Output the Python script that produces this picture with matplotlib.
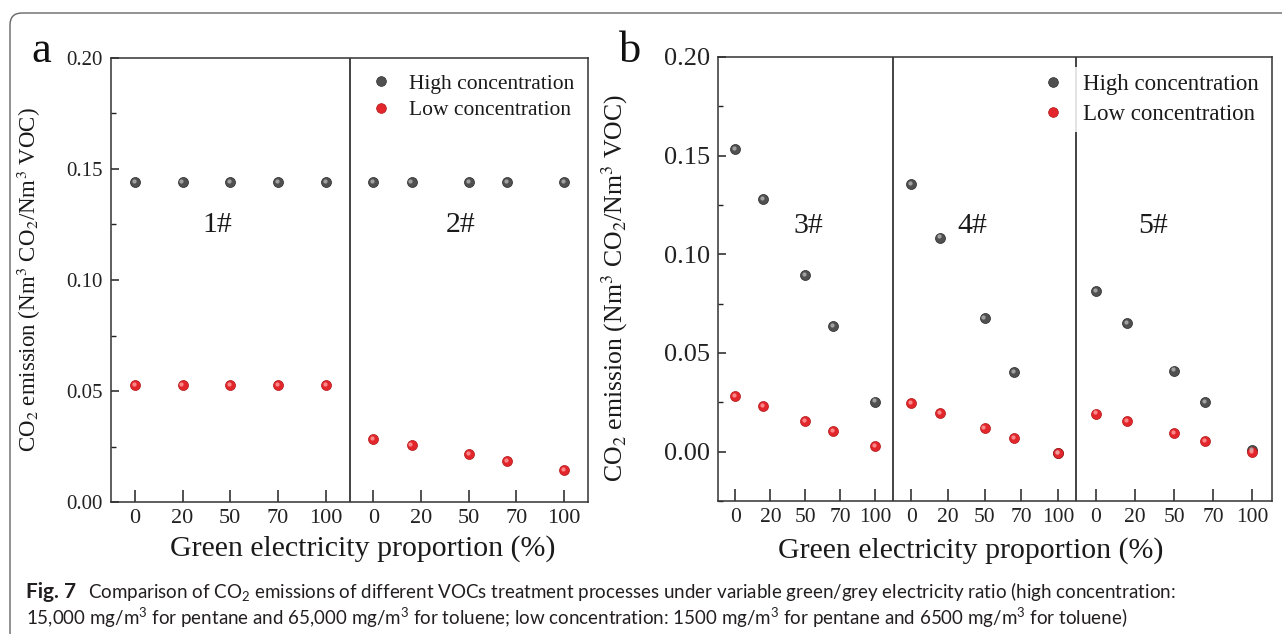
# CO2 emission vs green electricity proportion, panels a and b, with caption.

import numpy as np
import matplotlib.pyplot as plt
from matplotlib.patches import FancyBboxPatch
from matplotlib.lines import Line2D
from matplotlib.ticker import MultipleLocator, FormatStrFormatter
from matplotlib.transforms import ScaledTranslation, IdentityTransform

plt.rcParams['font.family'] = 'Liberation Serif'
plt.rcParams['mathtext.fontset'] = 'custom'
plt.rcParams['mathtext.rm'] = 'Lato'
plt.rcParams['mathtext.it'] = 'Lato:italic'
plt.rcParams['mathtext.bf'] = 'Lato:bold'

# Data
green_pct = [0, 20, 50, 70, 100]
tick_labels = ["0", "20", "50", "70", "100"]

high_1 = [0.1443, 0.1443, 0.1443, 0.1443, 0.1443]
low_1 = [0.0528, 0.0528, 0.0528, 0.0528, 0.0528]
high_2 = [0.1443, 0.1443, 0.1443, 0.1443, 0.1443]
low_2 = [0.0285, 0.0256, 0.0214, 0.0184, 0.0142]

high_3 = [0.1533, 0.1278, 0.0893, 0.0636, 0.0254]
low_3 = [0.0281, 0.0230, 0.0156, 0.0105, 0.0027]
high_4 = [0.1357, 0.1085, 0.0677, 0.0403, -0.0007]
low_4 = [0.0245, 0.0196, 0.0120, 0.0070, -0.0007]
high_5 = [0.0814, 0.0653, 0.0411, 0.0250, 0.0010]
low_5 = [0.0193, 0.0154, 0.0095, 0.0054, -0.0003]

W, H = 1282, 634
fig = plt.figure(figsize=(W / 100, H / 100), dpi=100)


def px_rect(l, t, r, b):
    return [l / W, 1 - b / H, (r - l) / W, (b - t) / H]


def balls(ax, x, y, color, light, edge, ms):
    ax.plot(x, y, 'o', ms=ms, mfc=color, mec=edge, mew=0.5, ls='none', zorder=3, clip_on=False)
    off = ax.transData + ScaledTranslation(-0.8 / 72, 0.8 / 72, fig.dpi_scale_trans)
    ax.plot(x, y, 'o', ms=ms * 0.42, mfc=light, mec='none', alpha=0.85, ls='none',
            transform=off, zorder=4, clip_on=False)


def x_positions(start, width, categorical):
    if categorical:
        frac = 0.1 + 0.2 * np.arange(len(green_pct))
    else:
        frac = 0.1 + 0.8 * np.array(green_pct) / 100
    return start + width * frac


def panel(ax, names, highs, lows, widths, categorical, ylim, name_y, name_fx,
          ytick_size, xtick_size):
    edges = np.concatenate([[0], np.cumsum(widths)])
    ticks, labels = [], []
    for k in range(len(names)):
        xs = x_positions(edges[k], widths[k], categorical[k])
        balls(ax, xs, highs[k], '#505050', '#b0b0b0', '#2a2a2a', 7.2)
        balls(ax, xs, lows[k], '#e3262b', '#ff9a9a', '#b01818', 7.2)
        ticks += list(edges[k] + widths[k] * (0.1 + 0.2 * np.arange(5)))
        labels += tick_labels
        ax.text(edges[k] + widths[k] * name_fx[k], name_y, names[k], fontsize=21.5,
                ha='center', va='center', color='#1a1a1a')
        if k > 0:
            ax.axvline(edges[k], color='#222222', lw=1.2, zorder=2)
    ax.set_xlim(0, edges[-1])
    ax.set_ylim(*ylim)
    ax.set_xticks(ticks)
    ax.set_xticklabels(labels)
    ax.yaxis.set_major_locator(MultipleLocator(0.05))
    ax.yaxis.set_minor_locator(MultipleLocator(0.025))
    ax.yaxis.set_major_formatter(FormatStrFormatter('%.2f'))
    ax.tick_params(axis='x', direction='in', length=9, width=1.1, labelsize=xtick_size,
                   pad=5, colors='#222222')
    ax.tick_params(axis='y', which='major', direction='in', length=6, width=1.1,
                   labelsize=ytick_size, pad=6, colors='#222222')
    ax.tick_params(axis='y', which='minor', direction='in', length=3.5, width=1.0,
                   colors='#222222')
    for s in ax.spines.values():
        s.set_linewidth(1.1)
        s.set_color('#333333')
    ax.set_ylabel(r"CO$_2$ emission (Nm$^3$ CO$_2$/Nm$^3$ VOC)", math_fontfamily='stix',
                  color='#1a1a1a')
    ax.set_xlabel("Green electricity proportion (%)", fontsize=21.5, color='#1a1a1a')


def legend(ax, x_px, y_px, fs, spacing):
    h = [Line2D([], [], marker='o', ls='none', ms=7, mfc='#505050', mec='#2a2a2a', mew=0.5),
         Line2D([], [], marker='o', ls='none', ms=7, mfc='#e3262b', mec='#b01818', mew=0.5)]
    inv = ax.transAxes.inverted()
    pos = inv.transform(fig.transFigure.transform((x_px / W, 1 - y_px / H)))
    leg = ax.legend(h, ["High concentration", "Low concentration"], loc='upper left',
                    bbox_to_anchor=tuple(pos), fontsize=fs, handlelength=1.0,
                    handletextpad=0.8, labelspacing=spacing, borderpad=0.3,
                    borderaxespad=0, frameon=True, fancybox=False)
    leg.get_frame().set_facecolor('white')
    leg.get_frame().set_edgecolor('none')
    leg.get_frame().set_alpha(0.85)
    for t in leg.get_texts():
        t.set_color('#1a1a1a')


# Panel a
ax_a = fig.add_axes(px_rect(111, 58, 588, 502))
panel(ax_a, ["1#", "2#"], [high_1, high_2], [low_1, low_2], [1.0, 1.0],
      [True, False], (0, 0.20), 0.125, [0.445, 0.464], 15, 16)
ax_a.yaxis.label.set_fontsize(16.5)
ax_a.yaxis.set_label_coords(-0.143, 0.5)
ax_a.xaxis.set_label_coords(0.528, -0.074)
legend(ax_a, 364, 67, 15.5, 0.3)

# Panel b
ax_b = fig.add_axes(px_rect(718, 57, 1272, 501))
panel(ax_b, ["3#", "4#", "5#"], [high_3, high_4, high_5], [low_3, low_4, low_5],
      [1.0, 1.05, 1.12], [False, False, False], (-0.025, 0.20), 0.1146,
      [0.514, 0.435, 0.391], 19, 15.5)
ax_b.yaxis.label.set_fontsize(18.5)
ax_b.yaxis.set_label_coords(-0.158, 0.48)
ax_b.xaxis.set_label_coords(0.457, -0.082)
legend(ax_b, 1035, 67, 16.5, 0.4)

# Panel letters
fig.text(41 / W, 1 - 62 / H, "a", fontsize=32, ha='center', va='baseline', color='#111111')
fig.text(630 / W, 1 - 62 / H, "b", fontsize=32, ha='center', va='baseline', color='#111111')

# Outer rounded frame
frame = FancyBboxPatch((10, -20), 1300, 634 - 13 + 20, boxstyle="round,pad=0,rounding_size=12",
                       transform=IdentityTransform(), facecolor='none', edgecolor='#666666',
                       lw=1.0)
fig.patches.append(frame)

# Caption
renderer = fig.canvas.get_renderer()
cap_col = '#231f20'
fig_lbl = fig.text(26 / W, 1 - 598 / H, "Fig. 7", family='Lato', weight='bold',
                   fontsize=14, color=cap_col, va='baseline')
line1 = fig.text(88 / W, 1 - 598 / H,
                 "Comparison of CO$_2$ emissions of different VOCs treatment processes under "
                 "variable green/grey electricity ratio (high concentration:",
                 family='Lato', fontsize=14, color=cap_col, va='baseline', math_fontfamily='custom')
line2 = fig.text(26 / W, 1 - 625 / H,
                 "15,000 mg/m$^3$ for pentane and 65,000 mg/m$^3$ for toluene; low concentration: "
                 "1500 mg/m$^3$ for pentane and 6500 mg/m$^3$ for toluene)",
                 family='Lato', fontsize=14, color=cap_col, va='baseline', math_fontfamily='custom')
w1 = line1.get_window_extent(renderer).width
scale = (1182 - 88) / w1
for t in (fig_lbl, line1, line2):
    t.set_fontsize(14 * scale)
wf = fig_lbl.get_window_extent(renderer).width
fig_lbl.set_fontsize(14 * scale * (76 - 26) / wf)

fig.savefig("out.png", dpi=100)
